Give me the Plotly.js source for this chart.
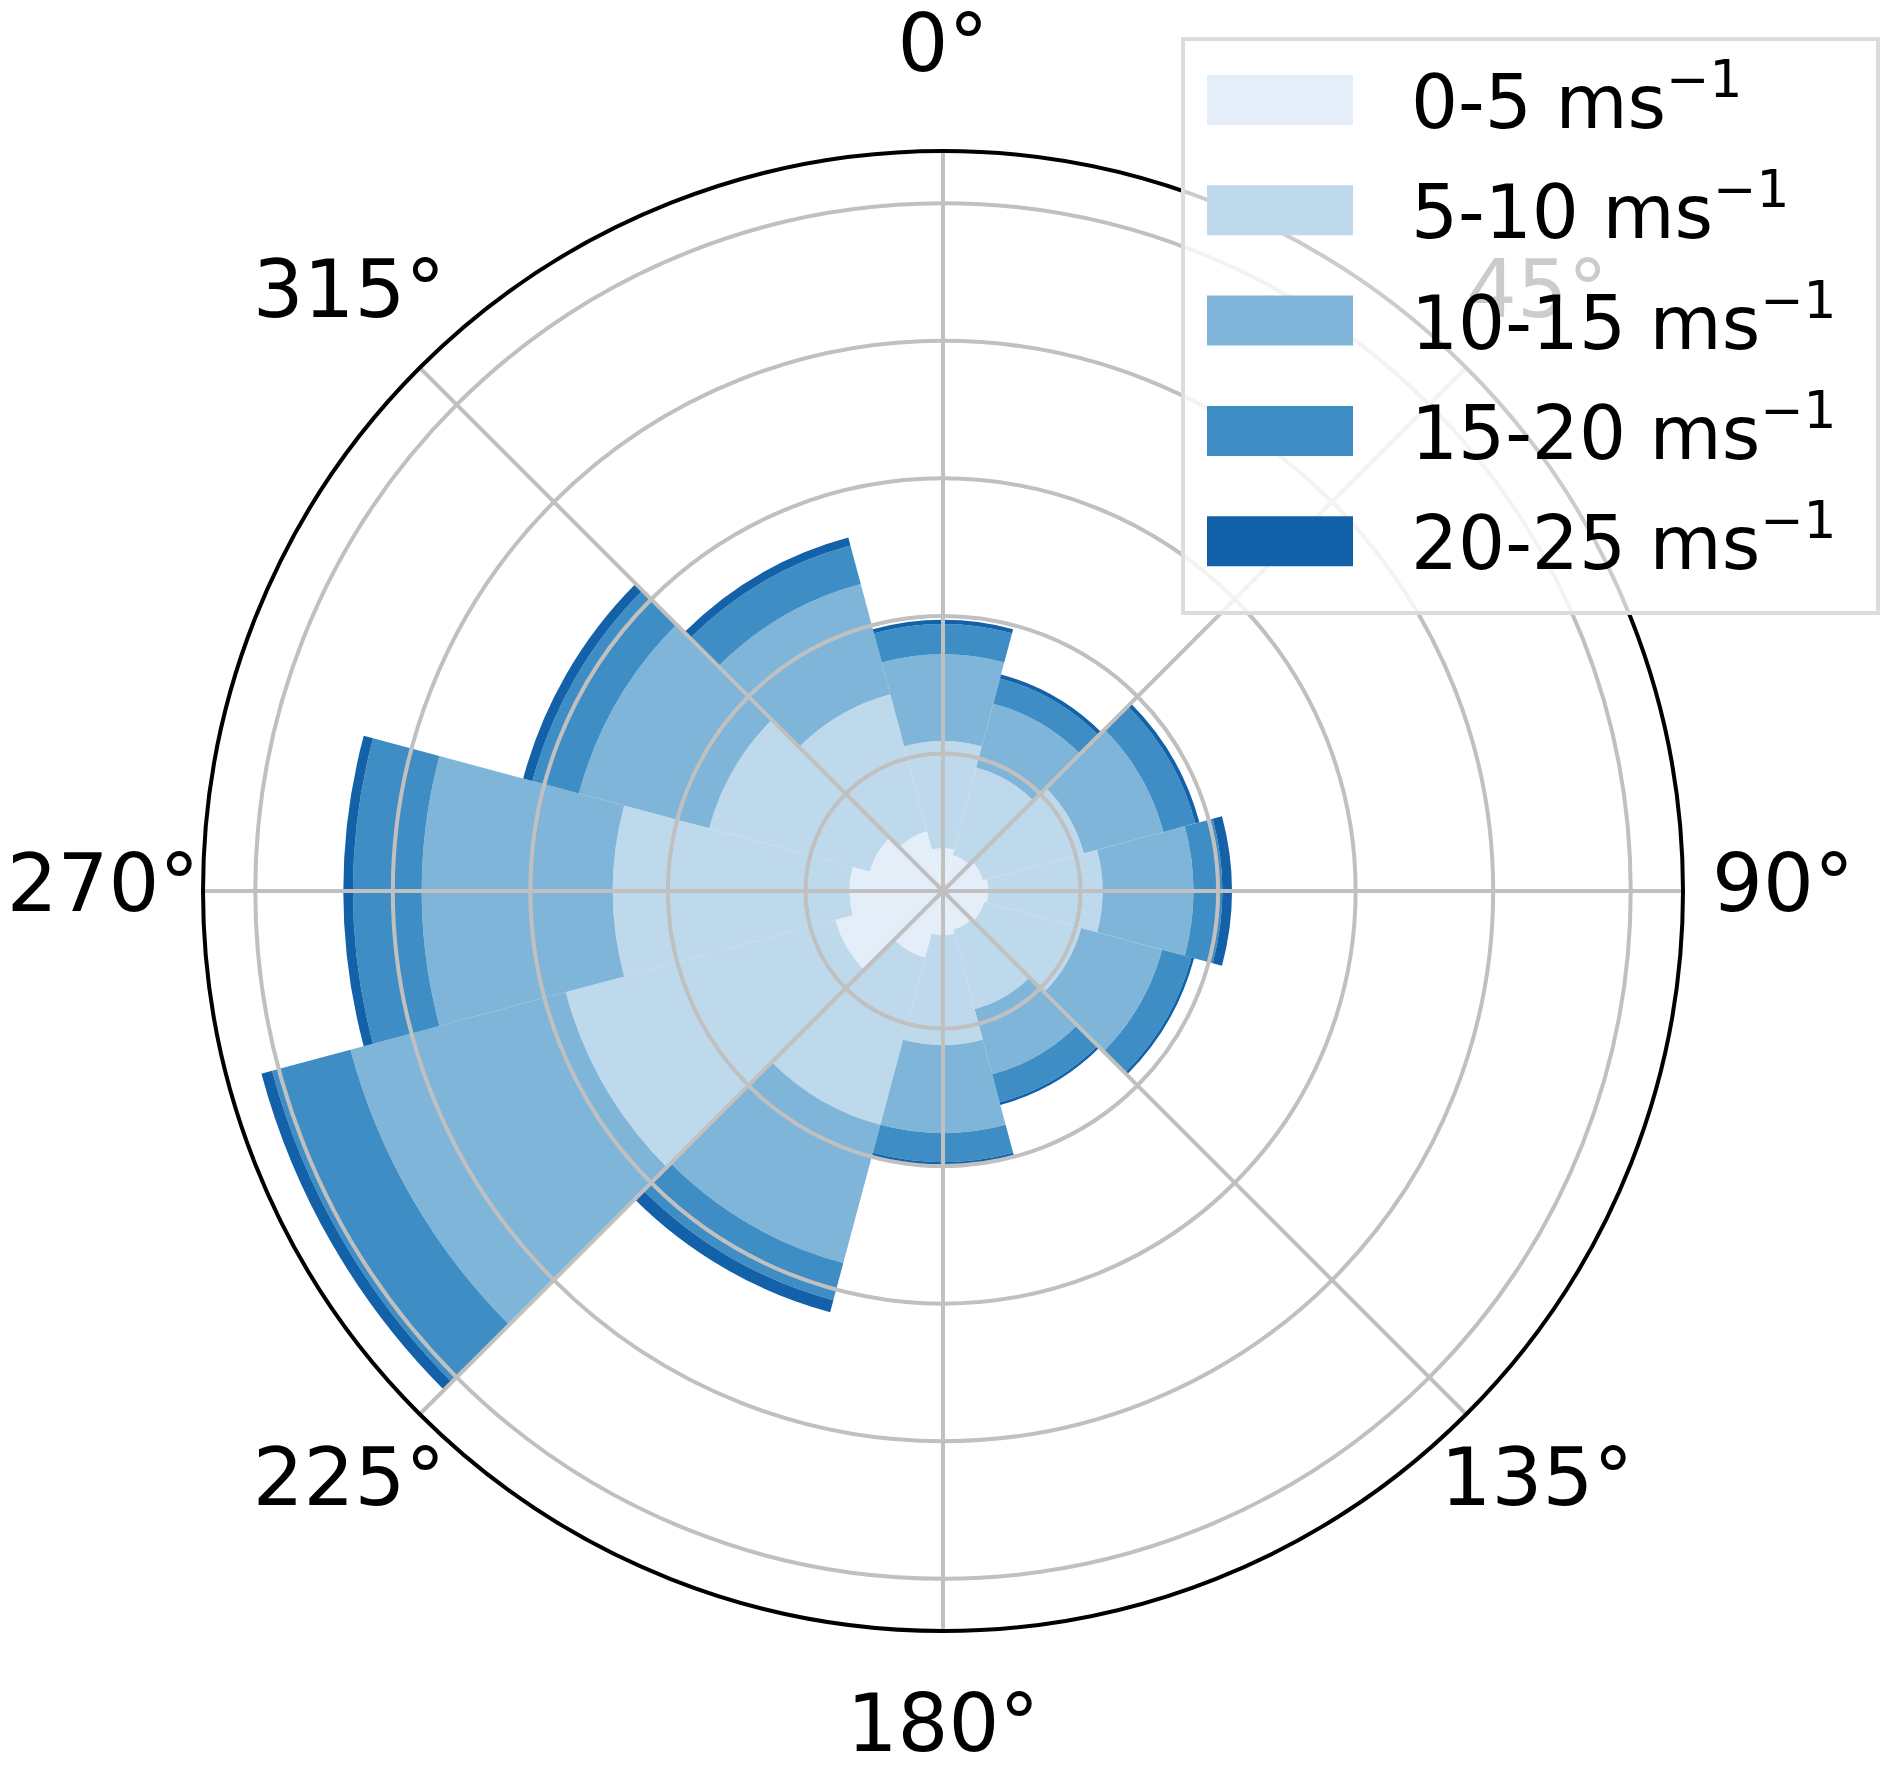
<!DOCTYPE html>
<html>
<head>
<meta charset="utf-8">
<script src="https://cdn.plot.ly/plotly-3.0.1.min.js"></script>
<style>
  html, body { margin: 0; padding: 0; background: #fff; }
  #windRose { width: 1892px; height: 1767px; }
</style>
</head>
<body>
<div id="windRose"></div>
<script>
// direction of each sector (degrees, clockwise from north)
var directions = [0, 30, 60, 90, 120, 150, 180, 210, 240, 270, 300, 330];

// stacked frequency in each speed band
var speed0to5   = [0.31, 0.27, 0.30, 0.33, 0.31, 0.29, 0.32, 0.50, 0.81, 0.68, 0.55, 0.45];
var speed5to10  = [0.78, 0.66, 0.76, 0.83, 0.73, 0.60, 0.80, 1.26, 2.03, 1.72, 1.21, 1.03];
var speed10to15 = [0.63, 0.48, 0.60, 0.66, 0.61, 0.49, 0.64, 1.04, 1.62, 1.39, 0.98, 0.83];
var speed15to20 = [0.22, 0.19, 0.24, 0.21, 0.22, 0.21, 0.21, 0.28, 0.59, 0.50, 0.35, 0.29];
var speed20to25 = [0.03, 0.03, 0.03, 0.07, 0.02, 0.02, 0.04, 0.09, 0.08, 0.07, 0.07, 0.06];

var bandNames = ['0-5 ms<sup>\u22121</sup>', '5-10 ms<sup>\u22121</sup>', '10-15 ms<sup>\u22121</sup>',
                 '15-20 ms<sup>\u22121</sup>', '20-25 ms<sup>\u22121</sup>'];
var bandColors = ['#e3eef8', '#bed8ec', '#7fb5d8', '#3e8dc4', '#1361a9'];

var angleTicks = [0, 45, 90, 135, 180, 225, 270, 315];
var angleLabels = ['0°', '45°', '90°', '135°', '180°', '225°', '270°', '315°'];

var rMax = 5.38;
var bands = [speed0to5, speed5to10, speed10to15, speed15to20, speed20to25];

var data = [];
for (var i = 0; i < bands.length; i++) {
  data.push({
    type: 'barpolar',
    r: bands[i],
    theta: directions,
    width: 30,
    name: bandNames[i],
    marker: { color: bandColors[i], line: { width: 0 } },
    hoverinfo: 'skip'
  });
}

// angle labels: matplotlib centres them a little outside the rim,
// so they sit on the edge of a second, larger, invisible polar frame
data.push({
  type: 'scatterpolar',
  subplot: 'polar2',
  mode: 'text',
  r: angleTicks.map(function () { return 1; }),
  theta: angleTicks,
  text: angleLabels,
  textposition: 'middle center',
  textfont: { family: 'DejaVu Sans', size: 80, color: '#000' },
  cliponaxis: false,
  hoverinfo: 'skip',
  showlegend: false
});

// pixel geometry of the plot
var W = 1892, H = 1767;
var cx = 943, cy0 = 891, rim = 740, labelRim = 840;

// legend drawn by hand so the swatches can be wide like the original
var shapes = [{
  type: 'rect', xref: 'paper', yref: 'paper',
  x0: 1183 / W, x1: 1878 / W, y0: 1 - 613 / H, y1: 1 - 39 / H,
  fillcolor: 'rgba(255,255,255,0.8)', line: { color: '#dcdcdc', width: 4 }
}];
var annotations = [];
for (var j = 0; j < bandNames.length; j++) {
  var cy = 100 + j * 110.3;
  shapes.push({
    type: 'rect', xref: 'paper', yref: 'paper',
    x0: 1207 / W, x1: 1353 / W, y0: 1 - (cy + 25) / H, y1: 1 - (cy - 25) / H,
    fillcolor: bandColors[j], line: { width: 0 }
  });
  annotations.push({
    xref: 'paper', yref: 'paper', x: 1409 / W, y: 1 - (cy - 3) / H,
    xanchor: 'left', yanchor: 'middle', showarrow: false,
    text: bandNames[j], font: { family: 'DejaVu Sans', size: 74, color: '#000' }
  });
}

var layout = {
  width: W,
  height: H,
  margin: { l: 0, r: 0, t: 0, b: 0 },
  paper_bgcolor: '#fff',
  showlegend: false,
  font: { family: 'DejaVu Sans', color: '#000' },
  polar: {
    domain: { x: [(cx - rim) / W, (cx + rim) / W], y: [1 - (cy0 + rim) / H, 1 - (cy0 - rim) / H] },
    bgcolor: '#fff',
    barmode: 'stack',
    bargap: 0,
    radialaxis: {
      range: [0, rMax],
      tick0: 0,
      dtick: 1,
      showticklabels: false,
      ticks: '',
      showline: false,
      gridcolor: '#c0c0c0',
      gridwidth: 4
    },
    angularaxis: {
      direction: 'clockwise',
      rotation: 90,
      tickmode: 'array',
      tickvals: angleTicks,
      showticklabels: false,
      ticks: '',
      showline: true,
      linecolor: '#000',
      linewidth: 4,
      gridcolor: '#c0c0c0',
      gridwidth: 4
    }
  },
  polar2: {
    domain: { x: [(cx - labelRim) / W, (cx + labelRim) / W], y: [1 - (cy0 + labelRim) / H, 1 - (cy0 - labelRim) / H] },
    bgcolor: 'rgba(0,0,0,0)',
    radialaxis: { range: [0, 1], visible: false, showgrid: false },
    angularaxis: {
      direction: 'clockwise',
      rotation: 90,
      showline: false,
      showgrid: false,
      showticklabels: false,
      ticks: ''
    }
  },
  shapes: shapes,
  annotations: annotations
};

Plotly.newPlot('windRose', data, layout, { displayModeBar: false, staticPlot: true }).then(function (gd) {
  // the original draws its grid on top of the bars
  var front = gd.querySelector('.polar .frontplot');
  if (!front) return;
  var parent = front.parentNode;
  ['angular-grid', 'radial-grid'].forEach(function (cls) {
    var g = parent.querySelector(':scope > .' + cls);
    if (g) parent.insertBefore(g, front.nextSibling);
  });
});
</script>
</body>
</html>
